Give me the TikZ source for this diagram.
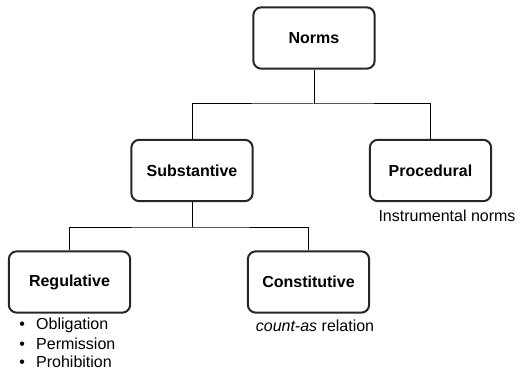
\documentclass[tikz,border=0pt]{standalone}
\usepackage{fontspec}
\setmainfont{Liberation Sans}
\begin{document}
\begin{tikzpicture}[x=0.75pt,y=-0.75pt,
  normbox/.style={draw=black!85,line width=1.5pt,rounded corners=6pt,
    minimum width=91pt,minimum height=46pt,inner sep=0pt,
    font=\fontsize{12}{14}\selectfont\bfseries},
  link/.style={draw=black,line width=0.75pt},
  note/.style={font=\fontsize{12}{14}\selectfont,inner sep=0pt}]
\useasboundingbox (0,0) rectangle (520,370);

% boxes
\node[normbox] (norms) at (314,38) {Norms};
\node[normbox] (subst) at (192,170.5) {Substantive};
\node[normbox] (proc)  at (430.5,170.5) {Procedural};
\node[normbox] (reg)   at (69.5,282) {Regulative};
\node[normbox] (const) at (308.5,282) {Constitutive};

% tree connectors
\coordinate (j1) at (314,104);
\coordinate (j2) at (192,227);
\draw[link] (norms.south) -- (j1);
\draw[link] (subst.north) |- (j1) -| (proc.north);
\draw[link] (subst.south) -- (j2);
\draw[link] (reg.north) |- (j2) -| (const.north);

% annotations
\node[note] (instr) at (447,216) {Instrumental norms};
\node[note] (count) at (315,326) {\textit{count-as} relation};
\node[note,anchor=west] (obl) at (19,325) {\textbullet\hspace{8.5pt}Obligation};
\node[note,anchor=west] (perm) at (19,343.5) {\textbullet\hspace{8.5pt}Permission};
\node[note,anchor=west] (proh) at (19,362) {\textbullet\hspace{8.5pt}Prohibition};
\end{tikzpicture}
\end{document}
